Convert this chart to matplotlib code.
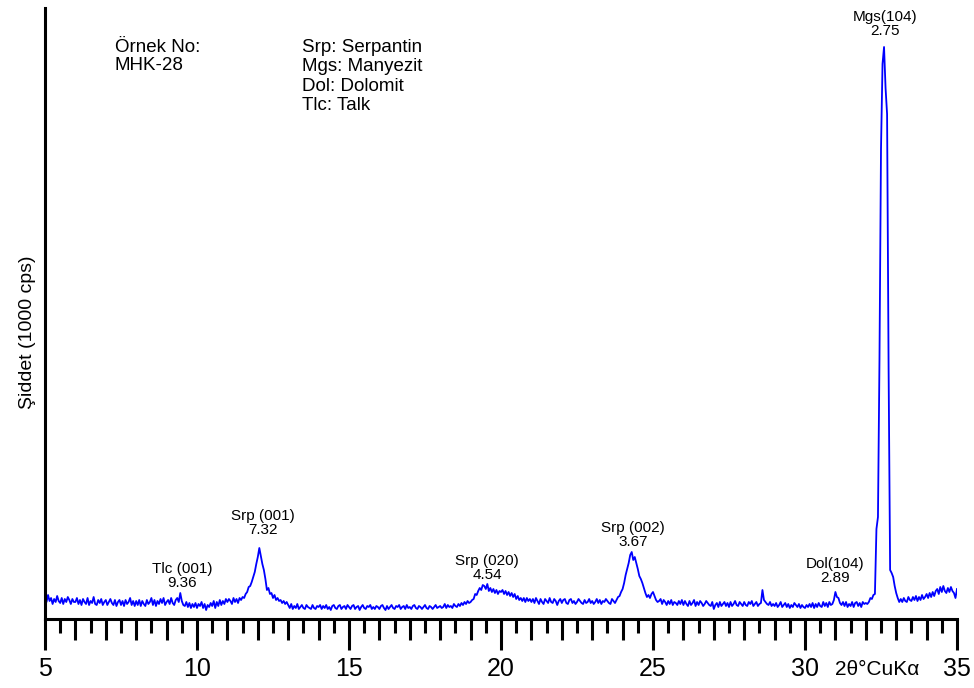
import numpy as np
import matplotlib
matplotlib.use("Agg")
import matplotlib.pyplot as plt
from matplotlib.ticker import MultipleLocator, FixedLocator

plt.rcParams['font.family'] = ['Liberation Sans', 'DejaVu Sans']

# 2-theta scan 5..35 deg, step 0.05 (one row per degree)
two_theta = np.linspace(5, 35, 601)
intensity = [
    23, 17, 24, 18, 21, 15, 20, 17, 23, 18, 16, 21, 15, 20, 17, 22, 19, 15, 20, 17,   # 5
    17, 21, 15, 19, 14, 20, 17, 15, 21, 14, 18, 16, 22, 15, 14, 19, 16, 20, 14, 17,   # 6
    19, 14, 17, 20, 16, 14, 19, 13, 17, 19, 14, 18, 13, 19, 15, 17, 21, 14, 18, 13,   # 7
    18, 14, 19, 13, 18, 15, 13, 19, 15, 17, 21, 14, 19, 13, 18, 15, 20, 16, 21, 14,   # 8
    17, 19, 15, 21, 16, 14, 19, 21, 17, 26, 18, 14, 13, 17, 12, 16, 11, 15, 12, 16,   # 9
    11, 15, 13, 17, 11, 15, 9, 14, 12, 16, 13, 18, 11, 17, 13, 19, 14, 18, 15, 20,    # 10
    17, 20, 18, 15, 21, 17, 20, 16, 21, 19, 22, 21, 25, 27, 32, 33, 37, 42, 47, 55,   # 11
    62, 71, 63, 55, 49, 40, 29, 31, 25, 26, 21, 24, 19, 21, 18, 19, 16, 18, 15, 17,   # 12
    14, 11, 15, 10, 13, 11, 15, 10, 12, 14, 11, 10, 14, 12, 11, 10, 14, 11, 10, 13,   # 13
    12, 14, 10, 13, 11, 14, 10, 12, 9, 13, 14, 11, 10, 13, 14, 10, 12, 13, 10, 14,    # 14
    12, 10, 13, 14, 10, 12, 13, 9, 12, 14, 11, 10, 13, 12, 14, 10, 12, 10, 13, 12,    # 15
    10, 13, 14, 11, 9, 13, 10, 12, 14, 11, 10, 13, 12, 14, 10, 12, 13, 10, 14, 11,    # 16
    12, 10, 13, 14, 11, 10, 13, 12, 10, 12, 14, 11, 10, 13, 12, 10, 12, 14, 11, 12,   # 17
    13, 11, 12, 15, 11, 14, 12, 13, 11, 15, 13, 12, 15, 13, 16, 14, 17, 15, 18, 16,   # 18
    17, 19, 20, 25, 24, 28, 31, 29, 34, 33, 30, 35, 28, 31, 27, 30, 26, 29, 25, 28,   # 19
    27, 29, 25, 28, 24, 27, 23, 26, 22, 25, 20, 23, 19, 21, 18, 21, 17, 21, 18, 20,   # 20
    17, 20, 16, 21, 18, 15, 20, 17, 15, 20, 18, 16, 21, 17, 16, 20, 18, 14, 18, 20,   # 21
    16, 19, 20, 16, 15, 19, 20, 16, 18, 15, 17, 20, 18, 16, 15, 19, 16, 17, 20, 16,   # 22
    18, 15, 17, 20, 16, 19, 15, 18, 17, 20, 18, 16, 15, 20, 18, 16, 19, 22, 23, 27,   # 23
    30, 36, 44, 50, 56, 64, 67, 59, 62, 56, 50, 43, 40, 36, 31, 26, 22, 24, 21, 25,   # 24
    27, 23, 19, 17, 18, 20, 15, 19, 17, 14, 18, 15, 19, 14, 17, 16, 14, 18, 15, 19,   # 25
    14, 18, 15, 13, 18, 14, 16, 19, 13, 17, 14, 18, 16, 13, 15, 18, 16, 14, 13, 17,   # 26
    10, 14, 16, 12, 17, 13, 15, 17, 13, 16, 12, 17, 13, 15, 18, 14, 13, 17, 15, 13,   # 27
    17, 14, 13, 17, 15, 18, 13, 15, 17, 13, 15, 16, 29, 19, 17, 15, 14, 17, 13, 15,   # 28
    13, 16, 12, 14, 17, 12, 14, 16, 12, 15, 11, 14, 12, 16, 14, 12, 15, 11, 14, 12,   # 29
    11, 14, 12, 15, 12, 16, 11, 15, 12, 16, 13, 12, 17, 13, 16, 12, 17, 14, 15, 19,   # 30
    27, 22, 21, 16, 14, 17, 13, 17, 12, 15, 13, 17, 12, 16, 17, 13, 16, 12, 17, 15,   # 31
    16, 15, 17, 21, 20, 24, 25, 90, 102, 260, 470, 555, 572, 531, 505, 250, 49, 46, 42, 33,  # 32
    26, 21, 17, 20, 17, 21, 18, 17, 22, 19, 18, 22, 19, 23, 18, 22, 19, 24, 20, 22,   # 33
    25, 21, 26, 22, 27, 23, 28, 30, 25, 32, 27, 33, 28, 26, 31, 27, 32, 28, 26, 21,   # 34
    30,                                                                               # 35
]

peak_names = ["Tlc (001)", "Srp (001)", "Srp (020)", "Srp (002)", "Dol(104)", "Mgs(104)"]
peak_d = ["9.36", "7.32", "4.54", "3.67", "2.89", "2.75"]
label_xy = [(9.51, 43), (12.17, 96), (19.54, 51), (24.34, 84), (30.99, 48), (32.63, 595)]

sample_lines = ["Örnek No:", "MHK-28"]
mineral_lines = ["Srp: Serpantin", "Mgs: Manyezit", "Dol: Dolomit", "Tlc: Talk"]

fig = plt.figure(figsize=(9.74, 6.88), dpi=100)
ax = fig.add_axes([45 / 974, 1 - 619 / 688, 912 / 974, 611 / 688])

ax.plot(two_theta, intensity, color='#0000ff', lw=1.3)
ax.set_xlim(5, 35)
ax.set_ylim(0, 611)

for s in ['top', 'right']:
    ax.spines[s].set_visible(False)
for s in ['left', 'bottom']:
    ax.spines[s].set_linewidth(2.2)

ax.set_yticks([])
ax.xaxis.set_major_locator(MultipleLocator(5))
ax.xaxis.set_minor_locator(FixedLocator([v for v in range(6, 35) if v % 5]))
ax.tick_params(axis='x', which='major', length=22, width=2.2, pad=5, labelsize=18)
ax.tick_params(axis='x', which='minor', length=15, width=2.2)

# third tick level at the half degrees
sec = ax.secondary_xaxis(0)
sec.set_xticks(np.arange(5.5, 35, 1.0))
sec.tick_params(length=10, width=2.2, labelbottom=False)
sec.spines['bottom'].set_visible(False)

for name, d, (lx, ly) in zip(peak_names, peak_d, label_xy):
    ax.text(lx, ly, name + "\n" + d, ha='center', va='center', fontsize=11,
            linespacing=1.05)

for i, t in enumerate(sample_lines):
    ax.text(7.30, 567 - 18.5 * i, t, fontsize=13.5, va='baseline')
for i, t in enumerate(mineral_lines):
    ax.text(13.44, 567 - 19.3 * i, t, fontsize=13.5, va='baseline')

ax.text(30.99, -56, "2θ°CuKα", fontsize=15, va='baseline', clip_on=False)

fig.text(28 / 974, 1 - 332 / 688, "Şiddet (1000 cps)", rotation=90,
         ha='center', va='center', fontsize=14)

fig.savefig("out.png", dpi=100)
